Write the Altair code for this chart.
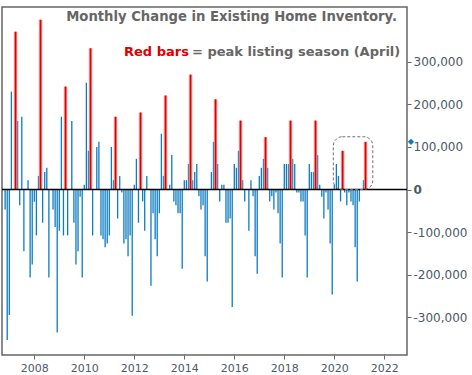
import altair as alt
import pandas as pd

# Monthly change in existing home inventory (thousands), Nov 2006 .. Apr 2021
start_year, start_month = 2006, 11
v2006 = [-47, -354]
v2007 = [-295, 230, 0, 371, 161, -37, 171, -145, 0, 22, -207, -176]
v2008 = [-29, -108, 32, 399, -78, 41, 51, -207, 0, -47, -88, -336]
v2009 = [-97, 171, -108, 242, -108, 0, 161, -78, -176, -145, -17, -207]
v2010 = [11, 251, 91, 332, -108, 0, 100, 112, -108, -117, -136, -127]
v2011 = [-108, 100, 22, 171, -68, 32, -7, -127, -117, -157, -108, -297]
v2012 = [11, 72, -78, 181, -28, -97, 32, 0, -226, -56, -117, -157]
v2013 = [-56, 131, 32, 221, 0, 11, 81, -28, -37, -56, -56, -186]
v2014 = [22, 22, 60, 270, 22, 41, 60, -16, -47, -37, -157, -216]
v2015 = [0, 41, 112, 212, 60, -28, 11, 11, -78, -78, -68, -276]
v2016 = [60, 51, 91, 162, 22, -28, 0, -97, 22, -16, -157, -198]
v2017 = [32, 51, 72, 123, 51, -28, -16, -47, -7, -56, -127, -207]
v2018 = [60, 60, 60, 162, 72, 60, -7, -7, -28, -28, -108, -207]
v2019 = [60, 41, 41, 162, 81, 11, -17, -68, -7, -47, -127, -247]
v2020 = [11, 60, 32, -28, 91, -7, -37, -7, -28, -37, -136, -216]
v2021 = [-28, 0, 22, 112]

red_months = ["2007-04", "2008-04", "2009-04", "2010-04", "2011-04", "2012-04",
              "2013-04", "2014-04", "2015-04", "2016-04", "2017-04", "2018-04",
              "2019-04", "2020-05", "2021-04"]

x_ticks = [2008, 2010, 2012, 2014, 2016, 2018, 2020, 2022]
y_ticks = [-300000, -200000, -100000, 0, 100000, 200000, 300000]

title_line = "Monthly Change in Existing Home Inventory."
red_label = "Red bars"
rest_label = "= peak listing season (April)"

# highlight box (2020-2021 peak seasons)
box_x = [2019.96, 2021.54]
box_y = [124000, 0]

values_k = (v2006 + v2007 + v2008 + v2009 + v2010 + v2011 + v2012 + v2013 +
            v2014 + v2015 + v2016 + v2017 + v2018 + v2019 + v2020 + v2021)

rows = []
yy, mm = start_year, start_month
for v in values_k:
    key = f"{yy}-{mm:02d}"
    rows.append({"t": yy + (mm - 1) / 12.0, "value": v * 1000, "red": key in red_months})
    mm += 1
    if mm > 12:
        mm = 1
        yy += 1
df = pd.DataFrame(rows)

BLUE = "#0a7cc2"
LABEL_COLOR = "#4d5a66"
FONT = "DejaVu Sans"

x_scale = alt.Scale(domain=[2006.708, 2022.908], nice=False, zero=False)
y_scale = alt.Scale(domain=[-389000, 429000], nice=False, zero=False)

x_axis = alt.Axis(values=x_ticks, format="d", grid=False, domain=False,
                  tickColor="#666666", tickSize=4, tickWidth=1,
                  labelFont=FONT, labelFontSize=11, labelColor=LABEL_COLOR,
                  labelPadding=3, title=None)
y_axis = alt.Axis(orient="right", values=y_ticks, grid=False, domain=False,
                  tickColor="#666666", tickSize=4, tickWidth=1,
                  labelFont=FONT, labelFontSize=12, labelColor=LABEL_COLOR,
                  labelPadding=2, title=None,
                  labelExpr="replace(format(datum.value, ','), '\u2212', '-')",
                  labelFontWeight={"condition": {"test": "datum.value == 0", "value": "bold"},
                                   "value": "normal"})

base = alt.Chart(df)

blue = base.transform_filter("!datum.red").mark_rule(color=BLUE, strokeWidth=1.3).encode(
    x=alt.X("t:Q", scale=x_scale, axis=x_axis),
    y=alt.Y("value:Q", scale=y_scale, axis=y_axis),
    y2=alt.datum(0),
)

red_halo = base.transform_filter("datum.red").mark_rule(color="#f4a3a3", strokeWidth=3.6).encode(
    x=alt.X("t:Q", scale=x_scale),
    y=alt.Y("value:Q", scale=y_scale),
    y2=alt.datum(0),
)
red_core = base.transform_filter("datum.red").mark_rule(color="#e00000", strokeWidth=1.6).encode(
    x=alt.X("t:Q", scale=x_scale),
    y=alt.Y("value:Q", scale=y_scale),
    y2=alt.datum(0),
)

zero = alt.Chart(pd.DataFrame({"y": [0]})).mark_rule(color="black", strokeWidth=1.3).encode(
    y=alt.Y("y:Q", scale=y_scale)
)

box = alt.Chart(pd.DataFrame({"x1": [box_x[0]], "x2": [box_x[1]],
                              "y1": [box_y[0]], "y2": [box_y[1]]})).mark_rect(
    fill="white", fillOpacity=0, stroke="#707070", strokeWidth=1,
    strokeDash=[3, 2], cornerRadius=9
).encode(
    x=alt.X("x1:Q", scale=x_scale), x2="x2:Q",
    y=alt.Y("y1:Q", scale=y_scale), y2="y2:Q",
)

last = alt.Chart(df.tail(1)).mark_point(shape="diamond", filled=True, size=40,
                                        color=BLUE, opacity=1, clip=False).encode(
    x=alt.value(409),
    y=alt.Y("value:Q", scale=y_scale),
)

t1 = alt.Chart(pd.DataFrame({"s": [title_line]})).mark_text(
    align="right", baseline="middle", font=FONT, fontWeight="bold", fontSize=13.2, color="#666666"
).encode(x=alt.value(395), y=alt.value(10), text="s:N")
t2 = alt.Chart(pd.DataFrame({"s": [red_label]})).mark_text(
    align="left", baseline="middle", font=FONT, fontWeight="bold", fontSize=13, color="#e00000"
).encode(x=alt.value(122), y=alt.value(45), text="s:N")
t3 = alt.Chart(pd.DataFrame({"s": [rest_label]})).mark_text(
    align="left", baseline="middle", font=FONT, fontWeight="bold", fontSize=13, color="#666666"
).encode(x=alt.value(190), y=alt.value(45), text="s:N")

chart = alt.layer(blue, red_halo, red_core, zero, box, last, t1, t2, t3).properties(
    width=405, height=348,
    padding={"left": 2, "top": 7, "right": 65, "bottom": 20},
    autosize="none",
    background="white",
).configure_view(stroke="#666666", strokeWidth=1.5)

chart.save("out.html", embed_options={"renderer": "svg", "actions": False})
